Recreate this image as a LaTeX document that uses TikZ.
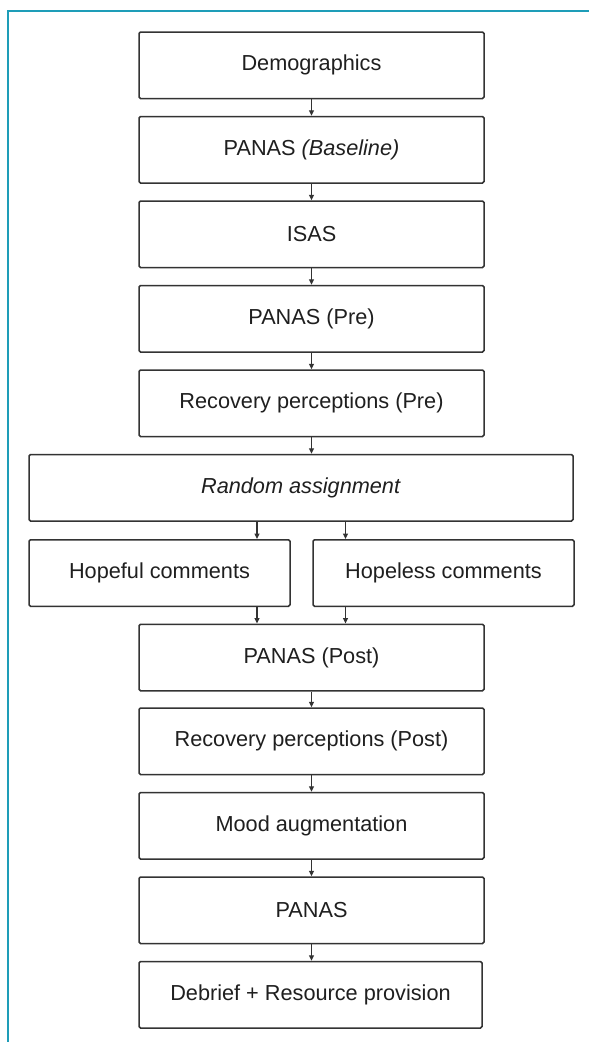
\documentclass[tikz,border=0pt]{standalone}
\usepackage{fontspec}
\setmainfont{Liberation Sans}
\usetikzlibrary{arrows.meta}
\definecolor{frameteal}{HTML}{1E9DB8}
\definecolor{boxline}{HTML}{333333}
\begin{document}
\begin{tikzpicture}[x=1pt,y=-1pt,
  stepbox/.style={draw=boxline, line width=1.5pt, rounded corners=1.5pt, fill=white,
    minimum height=66.5pt, inner sep=0pt, font=\fontsize{21.7}{26}\selectfont, text=black!88},
  mainbox/.style={stepbox, minimum width=345pt},
  widebox/.style={stepbox, minimum width=544pt},
  halfbox/.style={stepbox, minimum width=261pt},
  flow/.style={draw=boxline, line width=1.4pt, -{Triangle[length=5.5pt,width=5pt]}}]
\useasboundingbox (0,0) rectangle (589,1042);
\fill[white] (0,0) rectangle (589,1042);
\draw[frameteal, line width=2.8pt] (8,1042) -- (8,11) -- (589,11);

\node[mainbox] (demo) at (311.5,65.25) {Demographics};
\node[mainbox] (panb) at (311.5,149.75) {PANAS \textit{(Baseline)}};
\node[mainbox] (isas) at (311.5,234.25) {ISAS};
\node[mainbox] (panpre) at (311.5,318.75) {PANAS (Pre)};
\node[mainbox] (recpre) at (311.5,403.25) {Recovery perceptions (Pre)};
\node[widebox] (rand) at (301,487.75) {\textit{Random assignment}};
\node[halfbox] (hopeful) at (159.5,573) {Hopeful comments};
\node[halfbox] (hopeless) at (443.5,573) {Hopeless comments};
\node[mainbox] (panpost) at (311.5,657.5) {PANAS (Post)};
\node[mainbox] (recpost) at (311.5,741.25) {Recovery perceptions (Post)};
\node[mainbox] (mood) at (311.5,825.75) {Mood augmentation};
\node[mainbox] (panas) at (311.5,910.25) {PANAS};
\node[stepbox, minimum width=343pt] (debrief) at (310.5,994.75) {Debrief + Resource provision};

\coordinate (cl) at (257,0);
\coordinate (cr) at (345.5,0);

\draw[flow] (demo) -- (panb);
\draw[flow] (panb) -- (isas);
\draw[flow] (isas) -- (panpre);
\draw[flow] (panpre) -- (recpre);
\draw[flow] (recpre.south) -- (recpre.south |- rand.north);
\draw[flow] (rand.south -| cl) -- (hopeful.north -| cl);
\draw[flow] (rand.south -| cr) -- (hopeless.north -| cr);
\draw[flow] (hopeful.south -| cl) -- (panpost.north -| cl);
\draw[flow] (hopeless.south -| cr) -- (panpost.north -| cr);
\draw[flow] (panpost) -- (recpost);
\draw[flow] (recpost) -- (mood);
\draw[flow] (mood) -- (panas);
\draw[flow] (panas.south) -- (panas.south |- debrief.north);
\end{tikzpicture}
\end{document}
